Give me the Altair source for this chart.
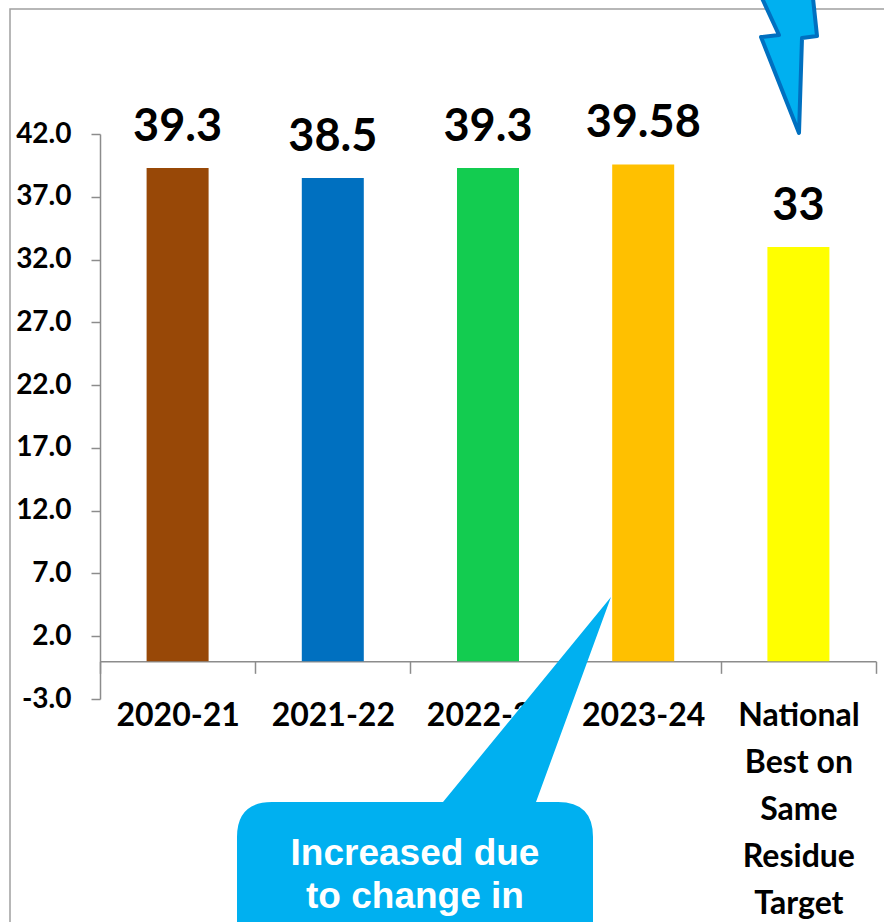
import json
import altair as alt
import pandas as pd

# ---- data ----
categories = ["2020-21", "2021-22", "2022-23", "2023-24", "National Best on Same Residue Target"]
values = [39.3, 38.5, 39.3, 39.58, 33]
bar_colors = ["#984807", "#0070C0", "#13CC50", "#FFC000", "#FFFF00"]
y_ticks = [-3.0, 2.0, 7.0, 12.0, 17.0, 22.0, 27.0, 32.0, 37.0, 42.0]
y_domain = [-3, 42]
national_label_lines = ["National", "Best on", "Same", "Residue", "Target"]
callout_lines = ["Increased due", "to change in"]

df = pd.DataFrame({"category": categories, "value": values})

W, H = 776, 565
x_offset = -(0 - y_domain[0]) / (y_domain[1] - y_domain[0]) * H

label_expr = "datum.label == {} ? {} : datum.label".format(
    json.dumps(categories[-1]).replace('"', "'"),
    json.dumps(national_label_lines).replace('"', "'"),
)

x_enc = alt.X(
    "category:N",
    sort=categories,
    scale=alt.Scale(paddingInner=0, paddingOuter=0),
    axis=alt.Axis(
        title=None,
        orient="bottom",
        offset=x_offset,
        tickBand="extent",
        tickSize=12,
        tickColor="#8C8C8C",
        tickWidth=1.5,
        domainColor="#8C8C8C",
        domainWidth=1.5,
        labelAngle=0,
        labelPadding=27,
        labelFont="Lato",
        labelFontWeight="bold",
        labelFontSize=32,
        labelColor="#000000",
        labelLineHeight=47,
        labelBaseline="top",
        labelLimit=0,
        labelOverlap=False,
        labelExpr=label_expr,
    ),
)
y_enc = alt.Y(
    "value:Q",
    scale=alt.Scale(domain=y_domain, nice=False, zero=False),
    axis=alt.Axis(
        title=None,
        values=y_ticks,
        format=".1f",
        labelExpr="datum.value < 0 ? '-' + format(-datum.value, '.1f') : datum.label",
        grid=False,
        tickSize=9,
        tickColor="#8C8C8C",
        tickWidth=1.5,
        domainColor="#8C8C8C",
        domainWidth=1.5,
        labelPadding=20,
        labelFont="Lato",
        labelFontWeight="bold",
        labelFontSize=28,
        labelColor="#000000",
    ),
)

base = alt.Chart(df)

bars = base.mark_bar(size=62).encode(
    x=x_enc,
    y=y_enc,
    color=alt.Color("category:N", scale=alt.Scale(domain=categories, range=bar_colors), legend=None),
)

value_text = base.mark_text(
    font="Lato", fontWeight="bold", fontSize=45, baseline="alphabetic", dy=-27, color="#000000"
).encode(x=alt.X("category:N", sort=categories), y="value:Q", text=alt.Text("value:Q"))

one = alt.Data(values=[{"k": 0}])

# outer chart frame (decoration)
frame = alt.Chart(one).mark_rect(fillOpacity=0, stroke="#A0A0A0", strokeWidth=1.5).encode(
    x=alt.value(-90), x2=alt.value(1000), y=alt.value(-125), y2=alt.value(1000)
)

# callout bubble with pointer (coords relative to plot origin)
callout_path = (
    "M 172 668 L 343 668 L 511 463 L 436 668 L 458 668 Q 493 668 493 703 "
    "L 493 830 L 137 830 L 137 703 Q 137 668 172 668 Z"
)
callout = alt.Chart(one).mark_point(
    shape=callout_path, size=4, filled=True, fill="#00B0F0", fillOpacity=1, strokeWidth=0, opacity=1
).encode(x=alt.value(0), y=alt.value(0))

callout_text = alt.Chart(one).mark_text(
    text=callout_lines,
    font="Liberation Sans",
    fontWeight="bold",
    fontSize=37,
    lineHeight=43,
    align="center",
    baseline="alphabetic",
    color="#FFFFFF",
).encode(x=alt.value(315), y=alt.value(731))

# lightning bolt (coords relative to plot origin)
bolt_path = "M 649 -164 L 679 -99 L 661 -97 L 699 -1 L 702 -96 L 717 -98 L 710 -164 Z"
bolt = alt.Chart(one).mark_point(
    shape=bolt_path,
    size=4,
    filled=True,
    fill="#00B0F0",
    fillOpacity=1,
    stroke="#0070C0",
    strokeOpacity=1,
    strokeWidth=4,
    strokeJoin="round",
    opacity=1,
).encode(x=alt.value(0), y=alt.value(0))

chart = (
    alt.layer(frame, bars, value_text, callout, callout_text, bolt)
    .properties(
        width=W,
        height=H,
        autosize=alt.AutoSizeParams(type="none"),
        padding={"left": 100, "top": 134, "right": 8, "bottom": 223},
        background="#FFFFFF",
    )
    .configure_view(stroke=None)
)

chart.save("out.html", embed_options={"renderer": "svg", "actions": False})
